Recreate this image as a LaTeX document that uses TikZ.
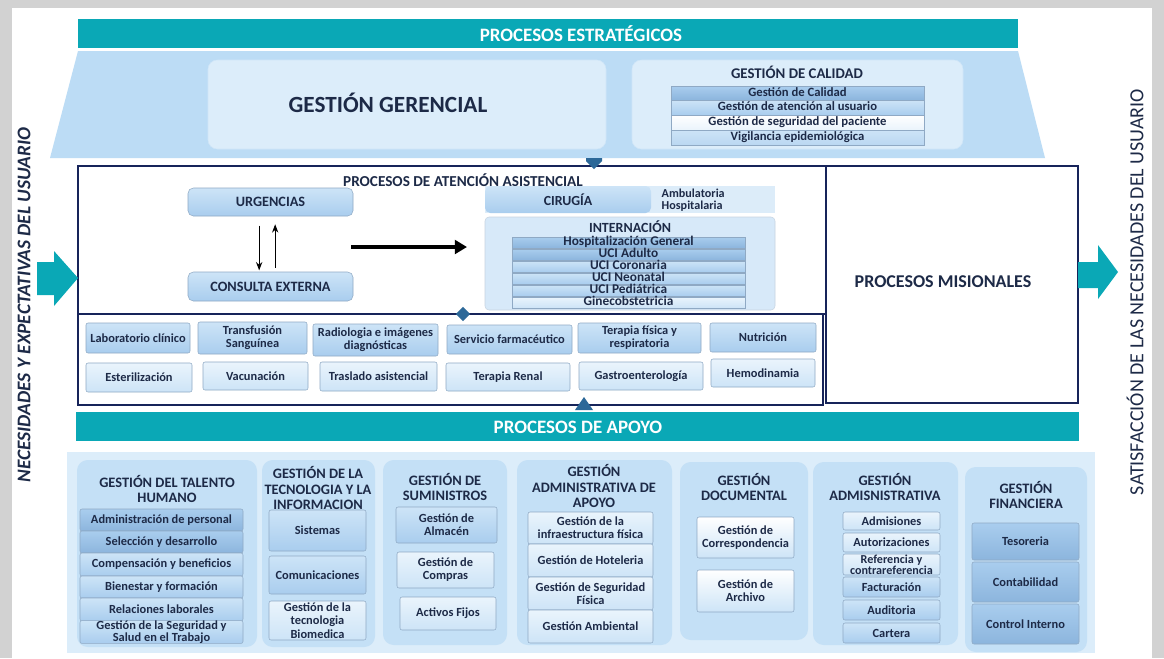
\documentclass[tikz,border=0pt]{standalone}
\usepackage{fontspec}
\setmainfont{Carlito}
\usetikzlibrary{arrows.meta, positioning, calc, shapes.geometric}

\definecolor{mpteal}{HTML}{0AA8B6}
\definecolor{mpsky}{HTML}{BCDCF5}
\definecolor{mppale}{HTML}{DCEDFA}
\definecolor{mpgrp}{HTML}{C4E0F6}
\definecolor{mpnavy}{HTML}{17245A}
\definecolor{mpink}{HTML}{1D2A47}
\definecolor{mpedge}{HTML}{8FA9C4}
\definecolor{mpsteel}{HTML}{2C6898}
\definecolor{mpdeep}{HTML}{8CB5DD}
\definecolor{mpmid}{HTML}{A9CDEE}
\definecolor{mplite}{HTML}{CDE4F7}
\definecolor{mpwhite}{HTML}{EAF4FC}

\tikzset{
  % a box given by its corners, in pixels: cell=x1/y1/x2/y2
  cell/.style args = {#1/#2/#3/#4}{at={({(#1+#3)/2},{(#2+#4)/2})},
                     minimum width={(#3-#1)*0.75pt},
                     minimum height={(#4-#2)*0.75pt}},
  mpbar/.style    = {fill=mpteal, inner sep=0pt},
  mpbartxt/.style = {text=white, font=\bfseries\fontsize{14.2}{16}\selectfont},
  mpbox/.style    = {rounded corners=7pt, fill=mppale, draw=mpsky!70,
                     inner sep=0pt},
  mpframe/.style  = {draw=mpnavy, line width=1.8pt, fill=white, inner sep=0pt},
  mptitle/.style  = {text=mpink, font=\bfseries\fontsize{11.4}{13}\selectfont,
                     align=center},
  mpgroup/.style  = {rounded corners=8pt, fill=mpgrp, inner sep=0pt},
  mpgtitle/.style = {text=mpink, font=\bfseries\fontsize{10.8}{11.6}\selectfont,
                     align=center},
  mpitem/.style   = {draw=mpedge, rounded corners=1.5pt, top color=mplite,
                     bottom color=mpmid, align=center, inner sep=0pt,
                     text=mpink, font=\bfseries\fontsize{9.3}{9.9}\selectfont},
  mpdark/.style   = {mpitem, top color=mpmid, bottom color=mpdeep},
  mpsoft/.style   = {mpitem, top color=mpwhite, bottom color=mplite},
  mprow/.style    = {mpitem, rounded corners=0pt, text height=6pt,
                     text depth=1.5pt, font=\bfseries\fontsize{10}{10}\selectfont},
  mpunit/.style   = {mpitem, rounded corners=4pt,
                     font=\bfseries\fontsize{10.7}{12}\selectfont},
  mparrow/.style  = {-{Stealth[length=2.2mm]}, draw=black, thick},
}

\begin{document}
\begin{tikzpicture}[x=0.75pt, y=-0.75pt]
  \useasboundingbox (0,0) rectangle (1164,658);
  % page with its grey rim
  \fill[gray!35] (0,0) rectangle (1164,658);
  \fill[white] (12,8) rectangle (1152,658);

  % strategic band
  \node[mpbar, cell=78/19/1018/48] (estr) {};
  \node[mpbartxt] (estrtxt) at (581,34) {PROCESOS ESTRATÉGICOS};
  \fill[mpsky] (78,51) -- (1018,51) -- (1045,158) -- (50,158) -- cycle;

  \node[mpbox, cell=208/60/606/149] (gerencial) {};
  \node[text=mpink, font=\bfseries\fontsize{17.4}{19}\selectfont]
        (gertxt) at (388,103) {GESTIÓN GERENCIAL};

  \node[mpbox, cell=632/60/963/149] (calidad) {};
  \node[mpgtitle, font=\bfseries\fontsize{11.1}{12}\selectfont]
        (caltxt) at (797,72) {GESTIÓN DE CALIDAD};
  \node[mprow, top color=mpmid, bottom color=mpdeep,
        font=\bfseries\fontsize{9.5}{10}\selectfont,
        cell=671/86/924/100] (cal1) {Gestión de Calidad};
  \node[mprow, top color=mplite, bottom color=mpmid,
        font=\bfseries\fontsize{9.5}{10}\selectfont,
        cell=671/100/924/115] (cal2) {Gestión de atención al usuario};
  \node[mprow, top color=white, bottom color=mpwhite,
        font=\bfseries\fontsize{9.5}{10}\selectfont,
        cell=671/115/924/130] (cal3) {Gestión de seguridad del paciente};
  \node[mprow, top color=mplite, bottom color=mpmid!80,
        font=\bfseries\fontsize{9.5}{10}\selectfont,
        cell=671/130/924/145] (cal4) {Vigilancia epidemiológica};

  % missional frame
  \node[mpframe, cell=78/166/826/314] (asist) {};
  \node[mpframe, cell=78/314/823/405] (soporte) {};
  \node[mpframe, line width=1.4pt, cell=826/166/1078/403] (misional) {};
  \node[mptitle, font=\bfseries\fontsize{13.5}{15}\selectfont]
        (mistxt) at (943,282) {PROCESOS MISIONALES};
  \node[mptitle] (asisttxt) at (463,180) {PROCESOS DE ATENCIÓN ASISTENCIAL};

  \node[mpunit, cell=188/188/353/216] (urg) {URGENCIAS};
  \node[mpunit, cell=188/272/353/301] (cons) {CONSULTA EXTERNA};
  \draw[mparrow, shorten <=7pt, shorten >=1pt]
        ([xshift=-8.5pt]urg.south) -- ([xshift=-8.5pt]cons.north);
  \draw[mparrow, shorten <=3pt, shorten >=6pt]
        ([xshift=3.5pt]cons.north) -- ([xshift=3.5pt]urg.south);

  \fill[mplite!70] (485,186) rectangle (775,213);
  \node[mpunit, draw=none, font=\bfseries\fontsize{10.4}{12}\selectfont,
        cell=485/186/651/213] (cir) {CIRUGÍA};
  \node[text=mpink, align=left, anchor=west,
        font=\bfseries\fontsize{9.1}{9}\selectfont]
        (cirtipo) at (657,200) {Ambulatoria\\Hospitalaria};
  \node[mpbox, rounded corners=3pt, fill=mplite!80, draw=mpedge!50,
        cell=485/217/775/310] (intern) {};
  \node[mptitle, font=\bfseries\fontsize{10.5}{11}\selectfont]
        (interntxt) at (630,227) {INTERNACIÓN};
  \node[mprow, cell=512/237/745/248, top color=mpmid, bottom color=mpdeep]
        (hosp) {Hospitalización General};
  \node[mprow, cell=512/249/745/260, top color=mpmid, bottom color=mpdeep]
        (uciad) {UCI Adulto};
  \node[mprow, cell=512/261/745/272] (ucico) {UCI Coronaria};
  \node[mprow, cell=512/273/745/284] (ucine) {UCI Neonatal};
  \node[mprow, cell=512/285/745/296] (ucipe) {UCI Pediátrica};
  \node[mprow, cell=512/297/745/308, top color=mpwhite, bottom color=mplite]
        (gineco) {Ginecobstetricia};

  \coordinate (flowa) at (351,247);
  \coordinate (flowb) at (467,247);
  \draw[-{Triangle[length=3.2mm, width=3.6mm]}, line width=2.6pt] (flowa) -- (flowb);

  % support services of the care process
  \node[mpitem, cell=86/323/190/353] (lab) {Laboratorio clínico};
  \node[mpitem, cell=198/322/307/354] (transf) {Transfusión\\Sanguínea};
  \node[mpitem, cell=313/324/438/356] (radio) {Radiologia e imágenes\\diagnósticas};
  \node[mpitem, cell=447/325/572/354] (farma) {Servicio farmacéutico};
  \node[mpitem, cell=578/323/701/353] (terap) {Terapia física y\\respiratoria};
  \node[mpitem, cell=710/323/816/352] (nutri) {Nutrición};
  \node[mpsoft, cell=86/363/192/392] (ester) {Esterilización};
  \node[mpsoft, cell=203/362/308/390] (vacu) {Vacunación};
  \node[mpsoft, cell=320/362/437/391] (trasl) {Traslado asistencial};
  \node[mpsoft, cell=446/363/570/391] (renal) {Terapia Renal};
  \node[mpsoft, cell=579/362/703/390] (gastro) {Gastroenterología};
  \node[mpsoft, cell=711/359/815/387] (hemo) {Hemodinamia};

  % joints between the bands
  \fill[mpsteel] (586,158) -- (602,158) -- (602,161) -- (594,169) -- (586,161) -- cycle;
  \node[diamond, fill=mpsteel, minimum width=11pt, minimum height=11pt,
        inner sep=0pt] (jointa) at (463,314) {};
  \fill[mpsteel] (575,410) -- (584,397) -- (593,410) -- cycle;

  % side arrows and captions
  \fill[mpteal] (37,262) -- (54,262) -- (54,251) -- (78,278) -- (54,306)
        -- (54,295) -- (37,295) -- cycle;
  \fill[mpteal] (1078,262) -- (1098,262) -- (1098,245) -- (1118,272)
        -- (1098,299) -- (1098,288) -- (1078,288) -- cycle;
  \node[rotate=90, text=mpink, font=\bfseries\itshape\fontsize{14.5}{16}\selectfont]
        (needs) at (24,305) {NECESIDADES Y EXPECTATIVAS DEL USUARIO};
  \node[rotate=90, text=mpink, font=\fontsize{15}{17}\selectfont]
        (satis) at (1135,292) {SATISFACCIÓN DE LAS NECESIDADES DEL USUARIO};

  % support band
  \node[mpbar, cell=76/412/1079/441] (apoyo) {};
  \node[mpbartxt] (apoyotxt) at (578,427) {PROCESOS DE APOYO};
  \fill[mppale] (67,452) rectangle (1095,653);

  \node[mpgroup, cell=77/460/257/647] (talento) {};
  \node[mpgtitle] (talentotxt) at (167,489) {GESTIÓN DEL TALENTO\\HUMANO};
  \node[mpdark, cell=80/509/243/531] (th1) {Administración de personal};
  \node[mpdark, cell=80/531/243/553] (th2) {Selección y desarrollo};
  \node[mpitem, cell=80/553/243/576] (th3) {Compensación y beneficios};
  \node[mpitem, cell=80/576/243/598] (th4) {Bienestar y formación};
  \node[mpitem, cell=80/598/243/621] (th5) {Relaciones laborales};
  \node[mpitem, font=\bfseries\fontsize{9.3}{9}\selectfont, cell=80/621/243/643]
        (th6) {Gestión de la Seguridad y\\Salud en el Trabajo};

  \node[mpgroup, cell=262/460/375/647] (tecno) {};
  \node[mpgtitle] (tecnotxt) at (318,488) {GESTIÓN DE LA\\TECNOLOGIA Y LA\\INFORMACION};
  \node[mpitem, cell=269/510/366/551] (sist) {Sistemas};
  \node[mpitem, cell=269/556/366/594] (comu) {Comunicaciones};
  \node[mpsoft, cell=269/601/366/640] (biomed) {Gestión de la\\tecnologia\\Biomedica};

  \node[mpgroup, cell=383/460/507/645] (sumin) {};
  \node[mpgtitle] (summintxt) at (445,487) {GESTIÓN DE\\SUMINISTROS};
  \node[mpitem, cell=396/507/497/543] (almacen) {Gestión de\\Almacén};
  \node[mpsoft, cell=397/552/494/588] (compras) {Gestión de\\Compras};
  \node[mpsoft, cell=400/597/496/630] (activos) {Activos Fijos};

  \node[mpgroup, cell=517/460/672/645] (admapoyo) {};
  \node[mpgtitle] (admapoyotxt) at (594,486) {GESTIÓN\\ADMINISTRATIVA DE\\APOYO};
  \node[mpsoft, cell=528/512/653/544] (infra) {Gestión de la\\infraestructura física};
  \node[mpsoft, cell=528/544/653/577] (hotel) {Gestión de Hoteleria};
  \node[mpsoft, cell=528/577/653/610] (segfis) {Gestión de Seguridad\\Física};
  \node[mpsoft, cell=528/610/653/643] (ambien) {Gestión Ambiental};

  \node[mpgroup, cell=680/462/808/640] (docu) {};
  \node[mpgtitle] (docutxt) at (744,487) {GESTIÓN\\DOCUMENTAL};
  \node[mpsoft, top color=white, cell=697/517/794/558] (corresp) {Gestión de\\Correspondencia};
  \node[mpsoft, top color=white, cell=697/570/794/612] (archivo) {Gestión de\\Archivo};

  \node[mpgroup, cell=813/462/958/645] (admin) {};
  \node[mpgtitle] (admintxt) at (885,487) {GESTIÓN\\ADMISNISTRATIVA};
  \node[mpsoft, cell=843/512/940/530] (admis) {Admisiones};
  \node[mpsoft, cell=843/533/940/552] (autor) {Autorizaciones};
  \node[mpsoft, font=\bfseries\fontsize{9.1}{8.3}\selectfont,
        cell=843/554/940/575] (refer) {Referencia y\\contrareferencia};
  \node[mpitem, cell=843/577/940/597] (factu) {Facturación};
  \node[mpitem, cell=843/600/940/620] (audit) {Auditoria};
  \node[mpitem, cell=843/623/940/643] (cartera) {Cartera};

  \node[mpgroup, cell=965/467/1087/652] (finan) {};
  \node[mpgtitle] (finantxt) at (1026,495) {GESTIÓN\\FINANCIERA};
  \node[mpdark, cell=972/523/1079/560] (tesor) {Tesoreria};
  \node[mpdark, cell=972/562/1079/602] (conta) {Contabilidad};
  \node[mpdark, cell=972/604/1079/644] (control) {Control Interno};
\end{tikzpicture}
\end{document}
